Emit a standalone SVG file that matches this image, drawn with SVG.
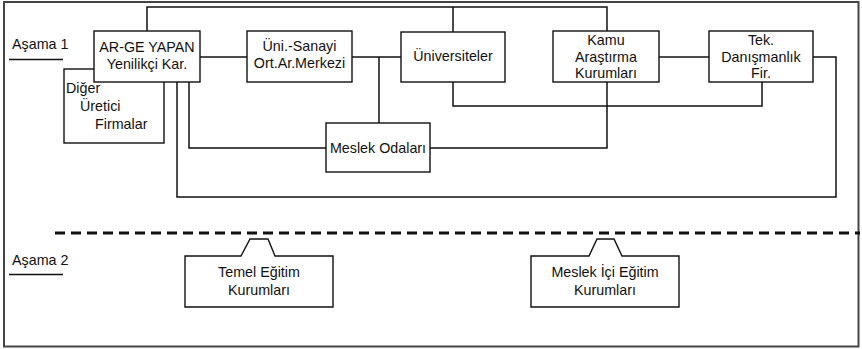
<svg xmlns="http://www.w3.org/2000/svg" width="862" height="349" viewBox="0 0 862 349">
<style>
.box{fill:#fff;stroke:#111;stroke-width:1.4}
.ln{fill:none;stroke:#111;stroke-width:1.5}
text{font-family:"Liberation Sans",Arial,sans-serif;font-size:14.3px;fill:#111}
.c{text-anchor:middle}
</style>
<rect x="4" y="2" width="854.5" height="344.5" fill="#fff" stroke="#444" stroke-width="2"/>
<g id="connectors">
<polyline class="ln" stroke-width="2.2" points="147,31 147,7 607,7 607,31"/>
<line class="ln" x1="453" y1="7" x2="453" y2="32"/>
<line class="ln" x1="200" y1="57" x2="247" y2="57"/>
<line class="ln" x1="352" y1="57" x2="401" y2="57"/>
<line class="ln" x1="379" y1="57" x2="379" y2="123"/>
<line class="ln" x1="659" y1="57" x2="709" y2="57"/>
<polyline class="ln" points="453,82 453,106 762,106 762,82"/>
<polyline class="ln" points="189,82 189,148 326,148"/>
<polyline class="ln" points="430,148 607,148 607,82"/>
<polyline class="ln" points="177,82 177,197 836,197 836,57 813,57"/>
<line x1="55" y1="233" x2="860" y2="233" stroke="#111" stroke-width="3" stroke-dasharray="10,6"/>
<line class="ln" stroke-width="1.2" x1="9" y1="59.5" x2="63" y2="59.5"/>
<line class="ln" stroke-width="1.2" x1="9" y1="274.5" x2="63" y2="274.5"/>
</g>
<text x="12" y="49">Aşama 1</text>
<text x="12" y="265">Aşama 2</text>
<g id="diger">
<rect class="box" x="64" y="69" width="100" height="74"/>
<text x="66" y="93">Diğer</text>
<text x="80" y="111">Üretici</text>
<text x="95" y="129">Firmalar</text>
</g>
<g id="arge">
<rect class="box" x="94" y="31" width="106" height="51"/>
<text class="c" x="147" y="52">AR-GE YAPAN</text>
<text class="c" x="147" y="69">Yenilikçi Kar.</text>
</g>
<g id="unisanayi">
<rect class="box" x="247" y="31" width="105" height="51"/>
<text class="c" x="299.5" y="51">Üni.-Sanayi</text>
<text class="c" x="299.5" y="68">Ort.Ar.Merkezi</text>
</g>
<g id="universiteler">
<rect class="box" x="401" y="32" width="104" height="50"/>
<text class="c" x="453" y="61">Üniversiteler</text>
</g>
<g id="kamu">
<rect class="box" x="553" y="31" width="106" height="51"/>
<text class="c" x="606" y="45">Kamu</text>
<text class="c" x="606" y="62">Araştırma</text>
<text class="c" x="606" y="78">Kurumları</text>
</g>
<g id="tek">
<rect class="box" x="709" y="31" width="104" height="51"/>
<text class="c" x="761" y="45">Tek.</text>
<text class="c" x="761" y="62">Danışmanlık</text>
<text class="c" x="761" y="78">Fir.</text>
</g>
<g id="meslekodalari">
<rect class="box" x="326" y="123" width="104" height="49"/>
<text class="c" x="378" y="153">Meslek Odaları</text>
</g>
<g id="temel">
<path class="box" d="M185,256 H241 L250,239 H268 L275,256 H333 V307 H185 Z"/>
<text class="c" x="259" y="277">Temel Eğitim</text>
<text class="c" x="259" y="295">Kurumları</text>
</g>
<g id="meslekici">
<path class="box" d="M531,256 H589 L597,239 H614 L622,256 H679 V307 H531 Z"/>
<text class="c" x="605" y="277">Meslek İçi Eğitim</text>
<text class="c" x="605" y="295">Kurumları</text>
</g>
</svg>
